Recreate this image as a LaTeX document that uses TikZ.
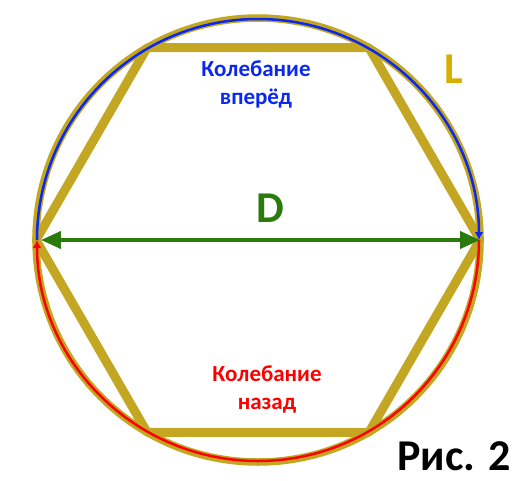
\documentclass[tikz,border=0pt]{standalone}
\usepackage{fontspec}
\setmainfont{Carlito}
\usetikzlibrary{arrows.meta}
\definecolor{zoloto}{HTML}{C3A621}
\definecolor{zheltyj}{HTML}{D6B000}
\definecolor{sinij}{HTML}{0A28F0}
\definecolor{krasnyj}{HTML}{FF0000}
\definecolor{zelenyj}{HTML}{2A7A0C}
\tikzset{
  krug/.style={draw=zoloto,line width=7.5pt},
  shestiug/.style={draw=zoloto,line width=9pt,line join=bevel},
  vpered/.style={draw=sinij,line width=2.5pt,-{Latex[length=8pt,width=9pt]}},
  nazad/.style={draw=krasnyj,line width=2.5pt,-{Latex[length=8pt,width=9pt]}},
  diametr/.style={draw=zelenyj,line width=4pt,{Triangle[length=20pt,width=17pt]}-{Triangle[length=20pt,width=17pt]}},
  podpis/.style={font=\bfseries\fontsize{23}{28}\selectfont,align=center,inner sep=0pt},
  bukva/.style={font=\bfseries\fontsize{44}{48}\selectfont,inner sep=0pt},
}
\begin{document}
\begin{tikzpicture}[x=1pt,y=1pt]
  \useasboundingbox (-258,-240) rectangle (260,240);
  \coordinate (c) at (0,0);
  % vershiny shestiugolnika
  \foreach \i in {0,...,5}
    \coordinate (h\i) at (\i*60:222);
  \coordinate (a3) at (180:221);
  \coordinate (a0) at (0:221);
  \draw[shestiug] (h0) -- (h1) -- (h2) -- (h3) -- (h4) -- (h5) -- cycle;
  \draw[krug] (c) circle[radius=222];
  \draw[vpered] (a3) arc[start angle=180,end angle=0,radius=221];
  \draw[nazad] (a0) arc[start angle=0,end angle=-180,radius=221];
  \draw[diametr,shorten <=5pt] (h3) -- (h0);
  \node[podpis,text=sinij] (vp) at (-2,156) {Колебание\\вперёд};
  \node[podpis,text=krasnyj] (nz) at (9,-149) {Колебание\\назад};
  \node[bukva,text=zelenyj] (d) at (12,32) {D};
  \node[bukva,text=zheltyj] (l) at (196,171) {L};
  \node[bukva,text=black] (ris) at (196,-216) {Рис. 2};
\end{tikzpicture}
\end{document}
